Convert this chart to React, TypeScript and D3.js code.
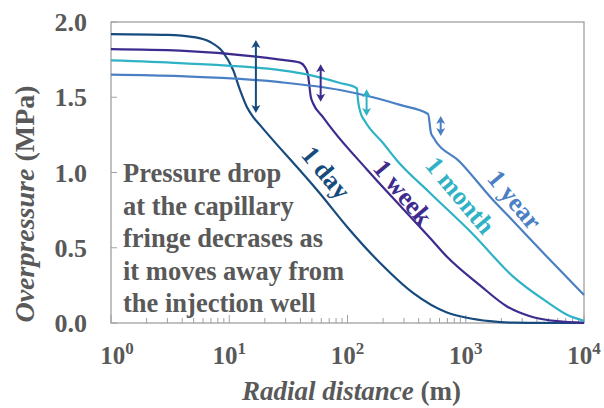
import React from "react";
import * as d3 from "d3";

// radial distance (m) and overpressure (MPa)
const dayR = [1, 3, 5, 6.9, 8.85, 10.8, 12.3, 14.1, 15.9, 18.9, 58.5, 99, 188, 358, 694, 1025, 1600, 2600, 10000];
const dayP = [1.92, 1.915, 1.9, 1.867, 1.8, 1.68, 1.55, 1.435, 1.37, 1.3, 0.86, 0.64, 0.4, 0.2, 0.07, 0.035, 0.012, 0.002, 0];

const weekR = [1, 3.83, 26.9, 39.7, 43.7, 46.3, 49, 51.1, 61.8, 75.4, 146, 499, 694, 1320, 2233, 3494, 5912, 10000];
const weekP = [1.82, 1.81, 1.75, 1.73, 1.7, 1.65, 1.5, 1.46, 1.37, 1.28, 1.02, 0.565, 0.44, 0.25, 0.11, 0.045, 0.012, 0.002];

const monthR = [1, 3.83, 26.9, 39.7, 86.4, 120, 122.7, 128.6, 140.6, 199.7, 262, 499, 1151, 2503, 4864, 7180, 10000];
const monthP = [1.745, 1.727, 1.68, 1.66, 1.595, 1.56, 1.48, 1.4, 1.34, 1.196, 1.08, 0.864, 0.59, 0.31, 0.14, 0.055, 0.015];

const yearR = [1, 3.83, 26.9, 86.4, 164, 278, 480, 508, 529, 894, 1700, 2503, 4864, 10000];
const yearP = [1.65, 1.64, 1.6, 1.548, 1.5, 1.449, 1.389, 1.262, 1.236, 1.07, 0.817, 0.68, 0.44, 0.186];

const seriesNames = ["1 day", "1 week", "1 month", "1 year"];
// pressure drop arrows: distance, top, bottom
const arrowR = [16.8, 59.3, 145, 614];
const arrowTop = [1.88, 1.72, 1.553, 1.375];
const arrowBottom = [1.395, 1.47, 1.375, 1.242];

const yTicks = [0, 0.5, 1, 1.5, 2];
const xDecades = [0, 1, 2, 3, 4];
const note = [
  "Pressure drop",
  "at the capillary",
  "fringe decrases as",
  "it moves away from",
  "the injection well",
];

const colors = ["#174b7d", "#3d2b8e", "#30b2c6", "#4a80c3"];
const grey = "#595959";
const serif = { fontFamily: "'Liberation Serif', 'DejaVu Serif', serif", fontWeight: 700 };

const W = 604, H = 408;
const m = { left: 111, right: 584, top: 22, bottom: 323 };

const App = () => {
  const x = d3.scaleLog().domain([1, 10000]).range([m.left, m.right]);
  const y = d3.scaleLinear().domain([0, 2]).range([m.bottom, m.top]);

  const line = d3
    .line<[number, number]>()
    .x((d) => x(d[0]))
    .y((d) => y(d[1]))
    .curve(d3.curveMonotoneX);

  const series = [
    [dayR, dayP],
    [weekR, weekP],
    [monthR, monthP],
    [yearR, yearP],
  ].map(([r, p]) => r.map((v, i) => [v, p[i]] as [number, number]));

  const minorTicks: number[] = [];
  for (let k = 0; k < 4; k++) for (let j = 2; j < 10; j++) minorTicks.push(j * Math.pow(10, k));

  // label anchors (data coords), rotated 50deg
  const labelPos: [number, number][] = [
    [66, 1.0],
    [295, 0.87],
    [900, 0.85],
    [2600, 0.82],
  ];

  return (
    <svg width={W} height={H} style={{ position: "absolute", left: 0, top: 0 }}>
      <rect width={W} height={H} fill="white" />
      {/* frame */}
      <rect x={m.left} y={m.top} width={m.right - m.left} height={m.bottom - m.top} fill="none" stroke="#a0a0a0" strokeWidth={1.3} />

      {/* y ticks */}
      {yTicks.map((t) => (
        <g key={t}>
          <line x1={m.left} x2={m.left + 6} y1={y(t)} y2={y(t)} stroke="#a0a0a0" />
          <text x={87} y={y(t) + 9} textAnchor="end" fontSize={26} fill={grey} style={serif}>
            {d3.format(".1f")(t)}
          </text>
        </g>
      ))}

      {/* x ticks */}
      {minorTicks.map((t) => (
        <line key={t} x1={x(t)} x2={x(t)} y1={m.bottom} y2={m.bottom - 5} stroke="#a0a0a0" />
      ))}
      {xDecades.map((k) => (
        <g key={k}>
          <line x1={x(Math.pow(10, k))} x2={x(Math.pow(10, k))} y1={m.bottom} y2={m.bottom - 8} stroke="#a0a0a0" />
          <text x={x(Math.pow(10, k)) + (k === 0 ? 6 : 0)} y={364} textAnchor="middle" fontSize={25} fill={grey} style={serif}>
            10
            <tspan fontSize={17} dy={-10}>{k}</tspan>
          </text>
        </g>
      ))}

      {/* axis titles */}
      <text x={242} y={400} fontSize={27} fill={grey} style={serif}>
        <tspan fontStyle="italic">Radial distance</tspan> (m)
      </text>
      <text transform={`translate(34,${204}) rotate(-90)`} textAnchor="middle" fontSize={28} fill={grey} style={serif}>
        <tspan fontStyle="italic">Overpressure</tspan> (MPa)
      </text>

      {/* curves */}
      {series.map((s, i) => (
        <path key={i} d={line(s) || ""} fill="none" stroke={colors[i]} strokeWidth={2.2} />
      ))}

      {/* arrows */}
      {arrowR.map((r, i) => {
        const ax = x(r);
        const t = y(arrowTop[i]);
        const b = y(arrowBottom[i]);
        return (
          <g key={i} fill={colors[i]} stroke="none">
            <line x1={ax} x2={ax} y1={t + 5} y2={b - 5} stroke={colors[i]} strokeWidth={2} />
            <path d={`M${ax},${t} L${ax - 4.5},${t + 8} L${ax},${t + 6} L${ax + 4.5},${t + 8} Z`} />
            <path d={`M${ax},${b} L${ax - 4.5},${b - 8} L${ax},${b - 6} L${ax + 4.5},${b - 8} Z`} />
          </g>
        );
      })}

      {/* series labels */}
      {seriesNames.map((n, i) => (
        <text
          key={n}
          transform={`translate(${x(labelPos[i][0])},${y(labelPos[i][1])}) rotate(50)`}
          textAnchor="middle"
          dy={9}
          fontSize={26}
          fill={colors[i]}
          style={serif}
        >
          {n}
        </text>
      ))}

      {/* annotation */}
      <text fontSize={26.5} fill={grey} style={serif}>
        {note.map((l, i) => (
          <tspan key={i} x={123} y={182 + i * 32.5}>
            {l}
          </tspan>
        ))}
      </text>
    </svg>
  );
};

export default App;
